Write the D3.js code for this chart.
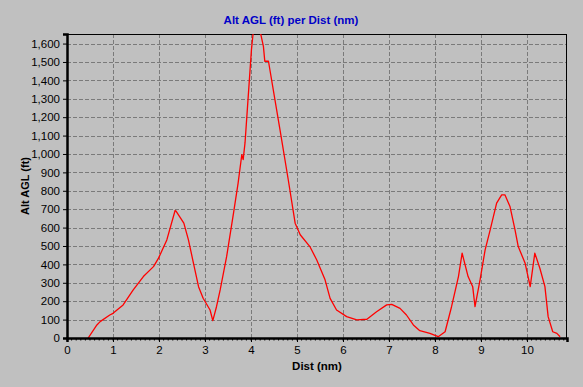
<!DOCTYPE html>
<html>
<head>
<meta charset="utf-8">
<script src="https://cdn.jsdelivr.net/npm/d3@7"></script>
<style>
  body { margin: 0; background: #c0c0c0; }
  svg { display: block; font-family: "Liberation Sans", Arial, sans-serif; }
</style>
</head>
<body>
<svg id="chart" width="583" height="387"></svg>
<script>
// distance (nm) and altitude above ground (ft)
var dist = [0.46, 0.65, 0.72, 0.93, 1.0, 1.22, 1.44, 1.66, 1.88, 1.99, 2.17, 2.35, 2.37, 2.54, 2.64, 2.75, 2.86, 2.96, 3.11, 3.17,
  3.25, 3.33, 3.47, 3.62, 3.72, 3.80, 3.83, 3.87, 3.94, 4.01, 4.05, 4.2, 4.27, 4.30, 4.38, 4.41, 4.63, 4.81, 4.96, 5.07,
  5.28, 5.43, 5.61, 5.72, 5.86, 6.08, 6.30, 6.52, 6.73, 6.95, 7.06, 7.24, 7.38, 7.53, 7.67, 7.89, 8.07, 8.22, 8.36, 8.51,
  8.59, 8.72, 8.82, 8.87, 8.98, 9.09, 9.2, 9.34, 9.45, 9.52, 9.63, 9.74, 9.81, 9.96, 10.07, 10.17, 10.28, 10.39, 10.46, 10.56,
  10.65, 10.72];
var altAgl = [0, 71, 89, 125, 134, 180, 261, 334, 388, 434, 533, 693, 690, 624, 533, 406, 279, 216, 152, 94,
  170, 261, 442, 679, 842, 996, 969, 1060, 1313, 1567, 1665, 1665, 1585, 1504, 1504, 1459, 1132, 860, 624, 561,
  497, 424, 316, 215, 152, 116, 98, 102, 143, 180, 183, 161, 125, 71, 40, 25, 7, 34, 170, 334,
  461, 334, 279, 170, 316, 479, 588, 733, 778, 778, 715, 588, 497, 406, 279, 461, 379, 279, 116, 34,
  25, 7];
var xTicks = [0, 1, 2, 3, 4, 5, 6, 7, 8, 9, 10];
var yTicks = [0, 100, 200, 300, 400, 500, 600, 700, 800, 900, 1000, 1100, 1200, 1300, 1400, 1500, 1600];

var svg = d3.select("#chart"),
    margin = {top: 34, right: 16, bottom: 49, left: 67},
    width = +svg.attr("width") - margin.left - margin.right,
    height = +svg.attr("height") - margin.top - margin.bottom;

var x = d3.scaleLinear().domain([0, 10.87]).range([0, width]),
    y = d3.scaleLinear().domain([0, 1652]).range([height, 0]);

svg.append("text")
    .attr("x", 291).attr("y", 24)
    .attr("text-anchor", "middle")
    .attr("fill", "#0000c8")
    .attr("font-size", "11.5px").attr("font-weight", "bold")
    .text("Alt AGL (ft) per Dist (nm)");

var g = svg.append("g")
    .attr("transform", "translate(" + margin.left + "," + margin.top + ")");

svg.append("defs").append("clipPath").attr("id", "clip")
  .append("rect").attr("width", width).attr("height", height);

// grid
g.selectAll(".vgrid").data(xTicks.slice(1)).enter().append("line")
    .attr("x1", function(d) { return Math.round(x(d)) + 0.5; })
    .attr("x2", function(d) { return Math.round(x(d)) + 0.5; })
    .attr("y1", 0).attr("y2", height)
    .attr("stroke", "#7a7a7a").attr("stroke-dasharray", "4,2");
g.selectAll(".hgrid").data(yTicks.slice(1)).enter().append("line")
    .attr("y1", function(d) { return Math.round(y(d)) + 0.5; })
    .attr("y2", function(d) { return Math.round(y(d)) + 0.5; })
    .attr("x1", 0).attr("x2", width)
    .attr("stroke", "#7a7a7a").attr("stroke-dasharray", "4,2");

// frame
g.append("rect").attr("x", 0.5).attr("y", 0.5)
    .attr("width", width - 1).attr("height", height)
    .attr("fill", "none").attr("stroke", "#000");

var line = d3.line()
    .x(function(d, i) { return x(dist[i]); })
    .y(function(d) { return y(d); });

g.append("path")
    .datum(altAgl)
    .attr("clip-path", "url(#clip)")
    .attr("fill", "none")
    .attr("stroke", "#ff0000")
    .attr("stroke-width", 1.3)
    .attr("stroke-linejoin", "round")
    .attr("d", line);

// axes
var xAxis = g.append("g")
    .attr("transform", "translate(0," + height + ")")
    .call(d3.axisBottom(x).tickValues(xTicks).tickSize(4).tickPadding(4).tickFormat(d3.format("d")));
xAxis.select(".domain").attr("stroke-width", 2.5);
xAxis.selectAll("text").attr("font-size", "11.5px").attr("font-family", "Liberation Sans, Arial, sans-serif");

g.append("g")
    .attr("transform", "translate(0," + height + ")")
    .selectAll("line").data(d3.range(0, 109).map(function(i) { return i / 10; })).enter().append("line")
    .attr("x1", function(d) { return x(d); }).attr("x2", function(d) { return x(d); })
    .attr("y1", 0).attr("y2", 2.5)
    .attr("stroke", "#000");

var yAxis = g.append("g")
    .call(d3.axisLeft(y).tickValues(yTicks).tickSize(4).tickPadding(3).tickFormat(d3.format(",")));
yAxis.select(".domain").attr("stroke-width", 2.5);
yAxis.selectAll("text").attr("font-size", "11.5px").attr("font-family", "Liberation Sans, Arial, sans-serif");

svg.append("text")
    .attr("x", margin.left + width / 2).attr("y", 370)
    .attr("text-anchor", "middle")
    .attr("font-size", "11.5px").attr("font-weight", "bold")
    .text("Dist (nm)");

svg.append("text")
    .attr("transform", "translate(29," + (margin.top + height / 2) + ") rotate(-90)")
    .attr("text-anchor", "middle")
    .attr("font-size", "11px").attr("font-weight", "bold")
    .text("Alt AGL (ft)");
</script>
</body>
</html>
